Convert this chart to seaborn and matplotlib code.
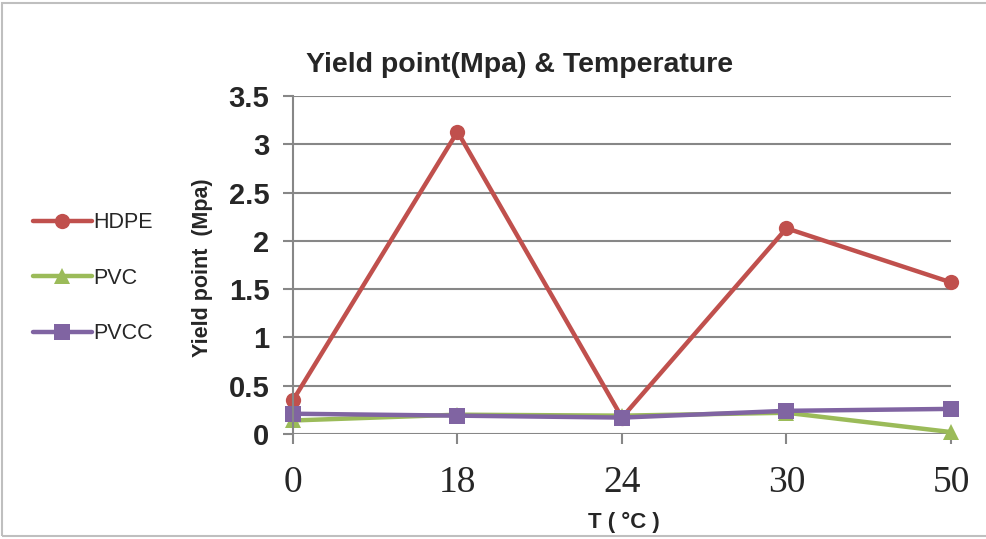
import matplotlib
matplotlib.use("Agg")
import matplotlib.pyplot as plt
import seaborn as sns
import pandas as pd
from matplotlib.patches import Rectangle
from matplotlib.lines import Line2D

temps = ["0", "18", "24", "30", "50"]
hdpe = [0.35, 3.13, 0.17, 2.13, 1.57]
pvc = [0.14, 0.20, 0.19, 0.22, 0.02]
pvcc = [0.21, 0.19, 0.17, 0.24, 0.26]
series_names = ["HDPE", "PVC", "PVCC"]
yticks = [0, 0.5, 1, 1.5, 2, 2.5, 3, 3.5]
ytick_labels = ["0", "0.5", "1", "1.5", "2", "2.5", "3", "3.5"]

colors = ["#C0504D", "#9BBB59", "#8064A2"]
markers = ["o", "^", "s"]

df = pd.DataFrame({
    "T": temps * 3,
    "value": hdpe + pvc + pvcc,
    "series": sum([[n] * len(temps) for n in series_names], []),
})

sns.set_theme(style="white")
plt.rcParams["font.family"] = ["Liberation Sans", "DejaVu Sans"]

fig = plt.figure(figsize=(9.87, 5.39), dpi=100)
ax = fig.add_axes([293/987, 1-434/539, (951-293)/987, (434-96)/539])

sns.lineplot(data=df, x="T", y="value", hue="series", style="series",
             palette=colors, markers=markers, dashes=False, sort=False,
             linewidth=3.2, markersize=11, markeredgewidth=0, ax=ax, legend=False)
for ln in ax.lines:
    ln.set_clip_on(False)

ax.set_xlim(0, len(temps) - 1)
ax.set_ylim(0, 3.5)
ax.set_yticks(yticks)
ax.set_yticklabels(ytick_labels, fontsize=21, fontweight="bold")
ax.set_xticks(range(len(temps)))
ax.set_xticklabels(temps, fontsize=27, family="Liberation Serif")
ax.yaxis.grid(True, color="#878787", linewidth=1.5)
ax.set_axisbelow(True)
for s in ["top", "right", "bottom"]:
    ax.spines[s].set_visible(False)
ax.spines["left"].set_color("#878787")
ax.spines["left"].set_linewidth(1.5)
ax.tick_params(axis="y", direction="out", length=7, width=1.5, color="#878787", pad=10, left=True)
ax.tick_params(axis="x", direction="out", length=7, width=1.5, color="#878787", pad=16, bottom=True)
ax.set_xlabel("")
ax.set_ylabel("")

fig.text(203/987, 1-268/539, "Yield point  (Mpa)", rotation=90, ha="center", va="center",
         fontsize=15.5, fontweight="bold")
fig.text(624/987, 1-522/539, "T ( °C )", ha="center", va="center", fontsize=16, fontweight="bold")
fig.text(520/987, 1-65/539, "Yield point(Mpa) & Temperature", ha="center", va="center",
         fontsize=20.5, fontweight="bold")

handles = [Line2D([], [], color=c, marker=m, linewidth=3.2, markersize=11, markeredgewidth=0)
           for c, m in zip(colors, markers)]
leg = fig.legend(handles, series_names, loc="upper left", bbox_to_anchor=(14/987, 1-193/539),
                 frameon=False, fontsize=15.5, handlelength=2.7, labelspacing=1.6,
                 handletextpad=0.1)

fig.patches.append(Rectangle((2/987, 3/539), 1.2, 1-6/539, transform=fig.transFigure,
                             fill=False, edgecolor="#BFBFBF", linewidth=1.5))

fig.savefig("out.png", dpi=100)
